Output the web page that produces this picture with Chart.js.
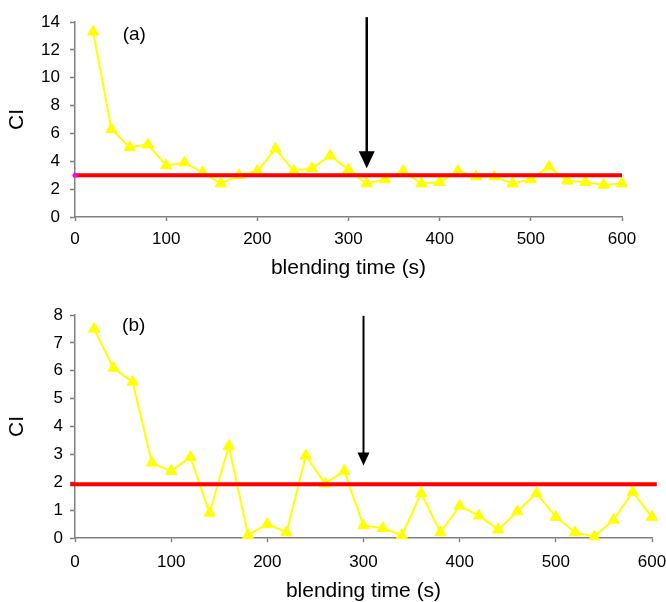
<!DOCTYPE html>
<html>
<head>
<meta charset="utf-8">
<script src="https://cdn.jsdelivr.net/npm/chart.js@4/dist/chart.umd.min.js"></script>
<style>
  html, body { margin: 0; padding: 0; background: #fff; overflow: hidden; }
  .panel { position: absolute; left: 0; width: 666px; }
</style>
</head>
<body>
<div class="panel" style="top:0;height:292px"><canvas id="chartA"></canvas></div>
<div class="panel" style="top:296px;height:308px"><canvas id="chartB"></canvas></div>
<script>
// blending time (s) for each sample
const blendTimes = [20, 40, 60, 80, 100, 120, 140, 160, 180, 200, 220, 240, 260, 280, 300,
                    320, 340, 360, 380, 400, 420, 440, 460, 480, 500, 520, 540, 560, 580, 600];

// CI values, panel (a) and (b)
const ciA = [13.3, 6.3, 5.0, 5.2, 3.7, 3.9, 3.2, 2.4, 3.0, 3.3, 4.9, 3.3, 3.5, 4.4, 3.4,
             2.4, 2.7, 3.3, 2.4, 2.5, 3.3, 2.9, 2.9, 2.4, 2.7, 3.6, 2.6, 2.5, 2.3, 2.4];
const ciB = [7.5, 6.1, 5.6, 2.7, 2.4, 2.9, 0.9, 3.3, 0.1, 0.5, 0.2, 2.95, 1.95, 2.4, 0.45,
             0.35, 0.1, 1.6, 0.2, 1.15, 0.8, 0.3, 0.95, 1.6, 0.75, 0.2, 0.05, 0.65, 1.65, 0.75];

// red reference lines: level and x extent
const thresholdA = 3.0;
const thresholdSpanA = [0, 600];
const thresholdB = 1.93;
const thresholdSpanB = [-5, 605];

// axis ticks
const xTickRange = [0, 600, 100];
const yTickRangeA = [0, 14, 2];
const yTickRangeB = [0, 8, 1];

// arrows (x position, top and tip in CI units) and panel tags
const arrowA = { x: 320, from: 14.35, to: 3.5 };
const arrowB = { x: 300, from: 7.97, to: 2.6 };
const tagA = { text: '(a)', x: 65, y: 13.05 };
const tagB = { text: '(b)', x: 61, y: 7.6 };

const FONT = "'Liberation Sans', Arial, sans-serif";
const AXIS_GREY = '#808080';

const extrasPlugin = {
  id: 'extras',
  afterDatasetsDraw(chart, args, opts) {
    const { ctx, scales: { x, y } } = chart;
    const a = opts.arrow;
    const px = x.getPixelForValue(a.x);
    const yTop = y.getPixelForValue(a.from);
    const yTip = y.getPixelForValue(a.to);
    ctx.save();
    ctx.strokeStyle = '#000';
    ctx.fillStyle = '#000';
    ctx.lineWidth = opts.lineWidth;
    ctx.beginPath();
    ctx.moveTo(px, yTop);
    ctx.lineTo(px, yTip - opts.headLen + 2);
    ctx.stroke();
    ctx.beginPath();
    ctx.moveTo(px - opts.headW / 2, yTip - opts.headLen);
    ctx.lineTo(px + opts.headW / 2, yTip - opts.headLen);
    ctx.lineTo(px, yTip);
    ctx.closePath();
    ctx.fill();

    const t = opts.tag;
    ctx.font = '19px ' + FONT;
    ctx.textAlign = 'center';
    ctx.textBaseline = 'middle';
    ctx.fillText(t.text, x.getPixelForValue(t.x), y.getPixelForValue(t.y));
    ctx.restore();
  }
};

function makeChart(id, values, level, span, yRange, cfg) {
  const datasets = [
    {
      data: blendTimes.map((t, i) => ({ x: t, y: values[i] })),
      borderColor: '#FFFF00',
      backgroundColor: '#FFFF00',
      borderWidth: 2,
      pointStyle: 'triangle',
      pointRadius: 6.5,
      pointBorderWidth: 1,
      pointBorderColor: '#FFFF00',
      pointBackgroundColor: '#FFFF00',
      order: 2,
      clip: false
    },
    {
      data: [{ x: span[0], y: level }, { x: span[1], y: level }],
      borderColor: '#FF0000',
      borderWidth: 4,
      pointRadius: cfg.startDot ? [2.5, 0] : 0,
      pointBackgroundColor: '#FF00FF',
      pointBorderWidth: 0,
      order: 1,
      clip: false
    }
  ];

  return new Chart(document.getElementById(id), {
    type: 'line',
    data: { datasets },
    plugins: [extrasPlugin],
    options: {
      responsive: true,
      maintainAspectRatio: false,
      animation: false,
      events: [],
      layout: { padding: cfg.padding },
      plugins: {
        legend: { display: false },
        tooltip: { enabled: false },
        extras: {
          arrow: cfg.arrow, tag: cfg.tag,
          lineWidth: cfg.arrowWidth, headW: cfg.headW, headLen: cfg.headLen
        }
      },
      scales: {
        x: {
          type: 'linear',
          min: xTickRange[0],
          max: xTickRange[1],
          afterFit(s) {
            s.height = cfg.xHeight;
            s.paddingLeft = 0;
            s.paddingRight = 14;
          },
          border: { color: AXIS_GREY, width: 1.5 },
          grid: { drawOnChartArea: false, color: AXIS_GREY, tickLength: 4, tickWidth: 1.5 },
          ticks: { stepSize: xTickRange[2], color: '#000', padding: cfg.xPad, maxRotation: 0,
                   font: { family: FONT, size: 17 } },
          title: { display: true, text: 'blending time (s)', color: '#000',
                   font: { family: FONT, size: 21 }, padding: { top: 0, bottom: cfg.titlePad } }
        },
        y: {
          min: yRange[0],
          max: yRange[1],
          afterFit(s) { s.width = 75; },
          border: { color: AXIS_GREY, width: 1.5 },
          grid: { drawOnChartArea: false, color: AXIS_GREY, tickLength: 5, tickWidth: 1.5 },
          ticks: { stepSize: yRange[2], color: '#000', padding: cfg.yPad,
                   font: { family: FONT, size: 17 } },
          title: { display: true, text: 'CI', color: '#000',
                   font: { family: FONT, size: 21 }, padding: { top: 5, bottom: 0 } }
        }
      }
    }
  });
}

makeChart('chartA', ciA, thresholdA, thresholdSpanA, yTickRangeA, {
  padding: { top: 22, right: 44, left: 0, bottom: 0 },
  xHeight: 75, xPad: 8, yPad: 10, titlePad: 11, startDot: true,
  arrow: arrowA, tag: tagA, arrowWidth: 2.5, headW: 16, headLen: 17
});

makeChart('chartB', ciB, thresholdB, thresholdSpanB, yTickRangeB, {
  padding: { top: 19, right: 14, left: 0, bottom: 0 },
  xHeight: 66, xPad: 10, yPad: 7, titlePad: 0, startDot: false,
  arrow: arrowB, tag: tagB, arrowWidth: 2, headW: 12, headLen: 13
});
</script>
</body>
</html>
